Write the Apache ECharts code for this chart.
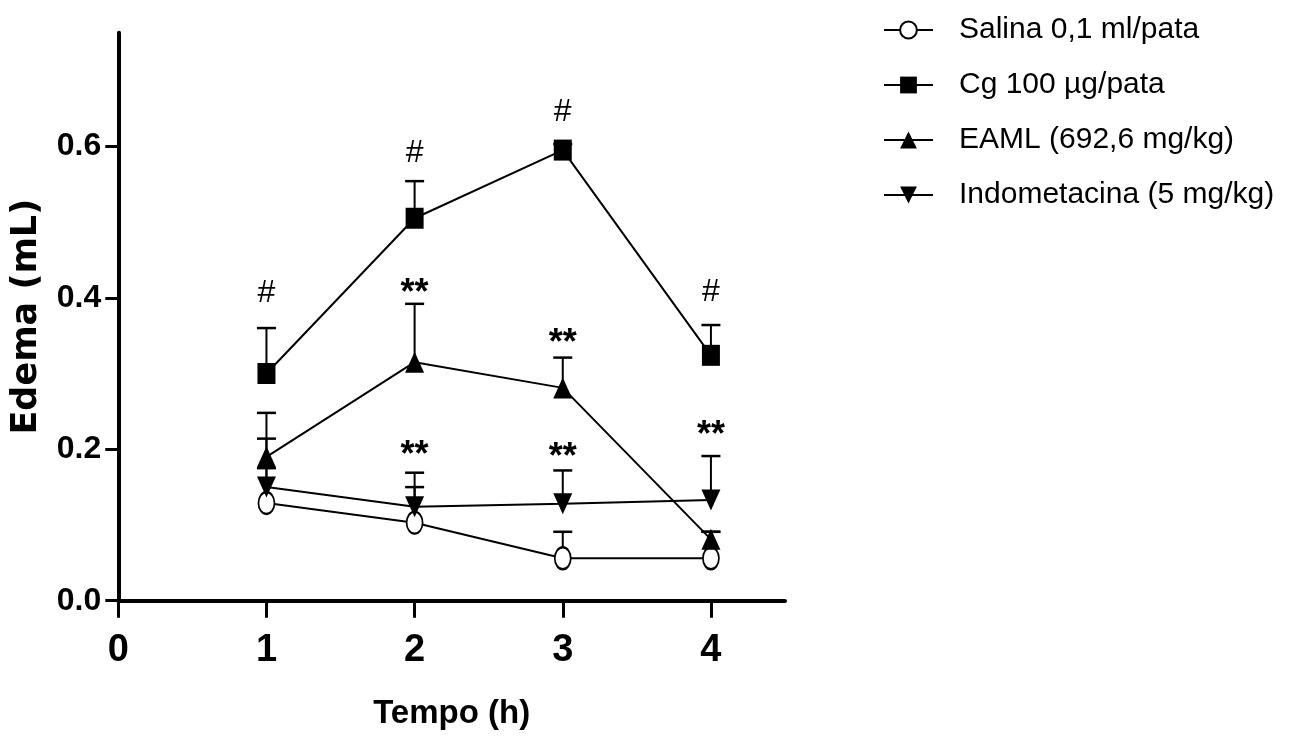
<!DOCTYPE html>
<html>
<head>
<meta charset="utf-8">
<script src="https://cdn.jsdelivr.net/npm/echarts@6/dist/echarts.min.js"></script>
<style>
  html, body { margin: 0; padding: 0; background: #fff; }
  #chart { width: 1303px; height: 738px; }
</style>
</head>
<body>
<div id="chart"></div>
<script>
// Paw edema (mL) over time (h) for each treatment group: mean and SEM
const hours = [1, 2, 3, 4];
const xTickValues = [0, 1, 2, 3, 4];
const yTickValues = [0, 0.2, 0.4, 0.6];

const seriesNames = ['Salina 0,1 ml/pata', 'Cg 100 \u00b5g/pata', 'EAML (692,6 mg/kg)', 'Indometacina (5 mg/kg)'];

const salinaMean = [0.129, 0.103, 0.056, 0.056];
const salinaSem  = [0.046, 0.047, 0.035, 0.035];
const cgMean     = [0.300, 0.505, 0.595, 0.324];
const cgSem      = [0.060, 0.049, 0.008, 0.040];
const eamlMean   = [0.190, 0.315, 0.281, 0.081];
const eamlSem    = [0.058, 0.077, 0.040, 0.010];
const indoMean   = [0.150, 0.124, 0.128, 0.133];
const indoSem    = [0.064, 0.045, 0.044, 0.058];

// Significance marks: # vs saline, ** vs carrageenan
const hashMarks = [[1, 0.407], [2, 0.592], [3, 0.647], [4, 0.409]];
const starMarks = [[2, 0.415], [3, 0.349], [2, 0.202], [3, 0.199], [4, 0.228]];

const SANS = "'Liberation Sans', Arial, sans-serif";

const chart = echarts.init(document.getElementById('chart'), null, { renderer: 'canvas' });

function points(mean) {
  return hours.map((h, i) => [h, mean[i]]);
}
function semPoints(mean, sem) {
  return hours.map((h, i) => [h, mean[i], sem[i]]);
}

// Upper error bar with a short horizontal cap
function renderSem(params, api) {
  const x = api.value(0), m = api.value(1), e = api.value(2);
  const p0 = api.coord([x, m]);
  const p1 = api.coord([x, m + e]);
  return {
    type: 'group',
    children: [
      { type: 'line', shape: { x1: p0[0], y1: p0[1], x2: p1[0], y2: p1[1] },
        style: { stroke: '#000', lineWidth: 2 } },
      { type: 'line', shape: { x1: p1[0] - 9.5, y1: p1[1], x2: p1[0] + 9.5, y2: p1[1] },
        style: { stroke: '#000', lineWidth: 2.5 } }
    ]
  };
}

function semSeries(id, mean, sem) {
  return {
    type: 'custom', name: id, renderItem: renderSem,
    data: semPoints(mean, sem), encode: { x: 0, y: 1 }, z: 1, silent: true
  };
}

function lineSeries(name, mean, symbol, size, rotate) {
  return {
    type: 'line', name: name, data: points(mean),
    symbol: symbol, symbolSize: size, symbolRotate: rotate || 0, showSymbol: true,
    lineStyle: { color: '#000', width: 2 },
    itemStyle: { color: '#000', borderWidth: symbol === 'emptyCircle' ? 2 : 0 },
    z: 3
  };
}

function markSeries(name, marks, text, font, offsetY) {
  return {
    type: 'scatter', name: name, data: marks, symbol: 'circle', symbolSize: 0.01,
    itemStyle: { color: '#000', opacity: 1 }, z: 5, silent: true,
    label: {
      show: true, position: 'inside', formatter: text, color: '#000', opacity: 1,
      textBorderWidth: 0, offset: [0, offsetY], ...font
    }
  };
}

const option = {
  animation: false,
  backgroundColor: '#fff',
  grid: { left: 118.3, right: 518, top: 32.7, bottom: 137.3 },
  legend: {
    data: seriesNames,
    orient: 'vertical', left: 878, top: 10,
    itemWidth: 49, itemHeight: 21, itemGap: 25,
    textStyle: { fontFamily: SANS, fontSize: 30, color: '#000', padding: [0, 0, 0, 21] }
  },
  xAxis: {
    type: 'value', min: 0, max: 4.5, interval: 1,
    name: 'Tempo (h)', nameLocation: 'middle', nameGap: 97,
    nameTextStyle: { fontFamily: SANS, fontWeight: 'bold', fontSize: 33, color: '#000' },
    axisLine: { onZero: false, lineStyle: { color: '#000', width: 4, cap: 'round' } },
    axisTick: { show: true, customValues: xTickValues, length: 17, lineStyle: { color: '#000', width: 3 } },
    axisLabel: { customValues: xTickValues, margin: 31, fontFamily: SANS, fontWeight: 'bold', fontSize: 38, color: '#000' },
    splitLine: { show: false }
  },
  yAxis: {
    type: 'value', min: 0, max: 0.75, interval: 0.2,
    name: 'Edema (mL)', nameLocation: 'middle', nameGap: 74, nameRotate: 90,
    nameTextStyle: { fontFamily: "'DejaVu Sans', sans-serif", fontWeight: 'bold', fontSize: 35, color: '#000' },
    axisLine: { onZero: false, lineStyle: { color: '#000', width: 4, cap: 'round' } },
    axisTick: { show: true, customValues: yTickValues, length: 13, lineStyle: { color: '#000', width: 3 } },
    axisLabel: {
      customValues: yTickValues, margin: 17,
      formatter: v => v.toFixed(1),
      fontFamily: SANS, fontWeight: 'bold', fontSize: 32, color: '#000'
    },
    splitLine: { show: false }
  },
  series: [
    semSeries('sem-salina', salinaMean, salinaSem),
    semSeries('sem-cg', cgMean, cgSem),
    semSeries('sem-eaml', eamlMean, eamlSem),
    semSeries('sem-indo', indoMean, indoSem),
    lineSeries(seriesNames[0], salinaMean, 'emptyCircle', [16, 22]),
    lineSeries(seriesNames[1], cgMean, 'rect', [18, 21]),
    lineSeries(seriesNames[2], eamlMean, 'triangle', [19, 21]),
    lineSeries(seriesNames[3], indoMean, 'triangle', [19, 21], 180),
    markSeries('hash', hashMarks, '#', { fontFamily: SANS, fontSize: 32 }, 1),
    markSeries('stars', starMarks, '**', { fontFamily: SANS, fontWeight: 'bold', fontSize: 36 }, 8)
  ]
};

chart.setOption(option);
</script>
</body>
</html>
